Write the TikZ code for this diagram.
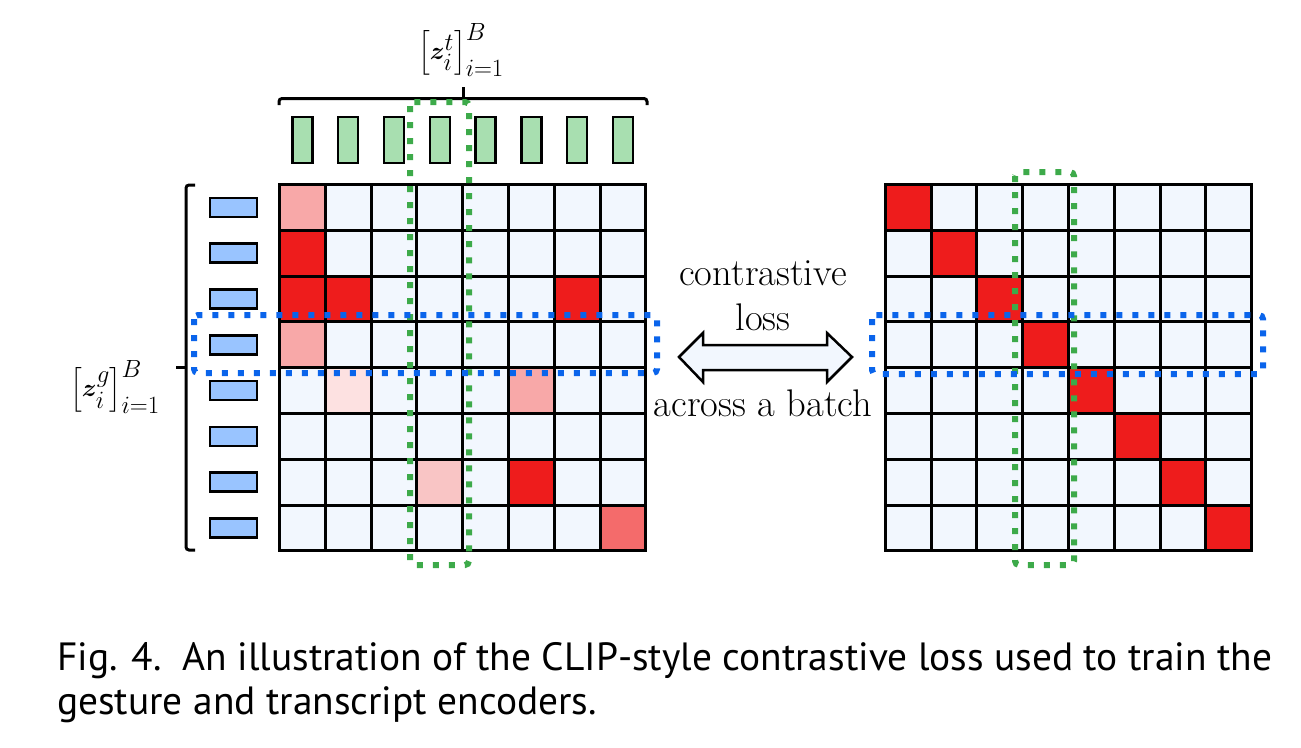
\documentclass[tikz,border=0pt]{standalone}
\usepackage{amsmath}
\usepackage{bm}
\usepackage{fontspec}
\newfontfamily\capfont{PT Sans}
\definecolor{cellbg}{HTML}{F2F7FE}
\definecolor{cred}{HTML}{EE1C1C}
\definecolor{cpink}{HTML}{F8A8A8}
\definecolor{clpink}{HTML}{FDE1E1}
\definecolor{cmpink}{HTML}{F9C5C5}
\definecolor{csalmon}{HTML}{F46B6B}
\definecolor{gbarfill}{HTML}{A8DFB0}
\definecolor{bbarfill}{HTML}{99C4FF}
\definecolor{gdot}{HTML}{3DAA4A}
\definecolor{bdot}{HTML}{0A64EB}
\tikzset{
  gridline/.style={line width=3pt, black},
  gbar/.style={draw=black, line width=2.5pt, fill=gbarfill},
  bbar/.style={draw=black, line width=2.5pt, fill=bbarfill},
  gsel/.style={draw=gdot, line width=6pt, dash pattern=on 6pt off 10pt, rounded corners=4pt},
  bsel/.style={draw=bdot, line width=6pt, dash pattern=on 6pt off 10pt, rounded corners=4pt},
  bracepath/.style={line width=3pt, black, rounded corners=3pt},
  lbl/.style={font=\fontsize{38.5}{44}\selectfont, inner sep=0pt},
  caplbl/.style={font=\capfont\fontsize{39.4}{46}\selectfont, inner sep=0pt},
  mathlbl/.style={font=\fontsize{40}{46}\selectfont, inner sep=0pt},
}
\begin{document}
\begin{tikzpicture}[x=1pt,y=-1pt]
\useasboundingbox (0,0) rectangle (1301,747);
\def\cs{45.8}
% ---------- left matrix ----------
\foreach \r in {0,...,7} \foreach \c in {0,...,7}
  \fill[cellbg] (279.5+\c*\cs,184.5+\r*\cs) rectangle ++(\cs,\cs);
\foreach \r/\c/\col in {0/0/cpink,1/0/cred,2/0/cred,2/1/cred,2/6/cred,3/0/cpink,4/1/clpink,4/5/cpink,6/3/cmpink,6/5/cred,7/7/csalmon}
  \fill[\col] (279.5+\c*\cs,184.5+\r*\cs) rectangle ++(\cs,\cs);
\foreach \i in {1,...,7} {
  \draw[gridline] (279.5+\i*\cs,184.5) -- ++(0,8*\cs);
  \draw[gridline] (279.5,184.5+\i*\cs) -- ++(8*\cs,0);
}
\draw[gridline] (279.5,184.5) rectangle ++(8*\cs,8*\cs);
% ---------- right matrix ----------
\foreach \r in {0,...,7} \foreach \c in {0,...,7}
  \fill[cellbg] (885.3,184.5) ++(\c*\cs,\r*\cs) rectangle ++(\cs,\cs);
\foreach \r in {0,...,7}
  \fill[cred] (885.3,184.5) ++(\r*\cs,\r*\cs) rectangle ++(\cs,\cs);
\foreach \i in {1,...,7} {
  \draw[gridline] (885.3+\i*\cs,184.5) -- ++(0,8*\cs);
  \draw[gridline] (885.3,184.5+\i*\cs) -- ++(8*\cs,0);
}
\draw[gridline] (885.3,184.5) rectangle ++(8*\cs,8*\cs);
% ---------- embedding bars ----------
\foreach \c in {0,...,7}
  \draw[gbar] (279.5+\c*\cs+\cs/2-10,117) rectangle ++(20,46);
\foreach \r in {0,...,7}
  \draw[bbar] (210,184.5+\r*\cs+\cs/2-9.5) rectangle ++(47,19);
% ---------- braces ----------
\draw[bracepath] (279,105) -- (279,98.5) -- (647,98.5) -- (647,105);
\draw[line width=3pt] (463,98.5) -- (463,87);
\draw[bracepath] (195,185) -- (186,185) -- (186,550) -- (195,550);
\draw[line width=3pt] (186,367.5) -- (176,367.5);
% ---------- labels ----------
\node[mathlbl] (zt) at (461,50) {$\left[\bm{z}_i^t\right]_{i=1}^B$};
\node[mathlbl] (zg) at (115,387) {$\left[\bm{z}_i^g\right]_{i=1}^B$};
% ---------- selections ----------
\draw[gsel] (410,102) rectangle (469,565);
\draw[gsel] (1015,172) rectangle (1074,565);
\draw[bsel] (194,315) rectangle (657,373);
\draw[bsel] (872,315) rectangle (1263,374);
% ---------- arrow ----------
\draw[line width=2.5pt, fill=cellbg, line join=miter]
  (679,357) -- (703,333) -- (703,345) -- (827,345) -- (827,333) -- (852,357)
  -- (827,382) -- (827,370) -- (703,370) -- (703,382) -- cycle;
\node[lbl, anchor=base] (t1) at (763,285) {contrastive};
\node[lbl, anchor=base] (t2) at (763,330) {loss};
\node[lbl, anchor=base] (t3) at (763,416) {across a batch};
% ---------- caption ----------
\node[caplbl, anchor=base west] (c1) at (57,670) {Fig. 4.\ \ An illustration of the CLIP-style contrastive loss used to train the};
\node[caplbl, anchor=base west] (c2) at (57,714) {gesture and transcript encoders.};
\end{tikzpicture}
\end{document}
